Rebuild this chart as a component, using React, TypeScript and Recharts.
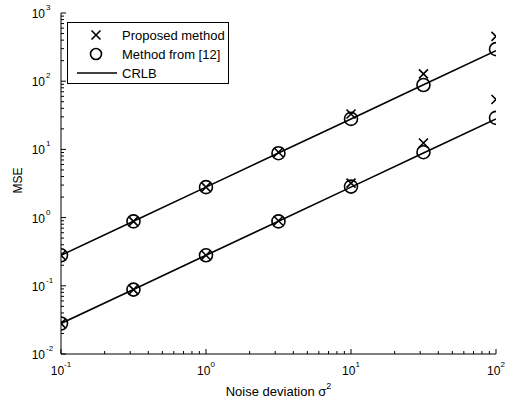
import React from "react";
import { ComposedChart, Line, XAxis, YAxis, Legend } from "recharts";

// noise variance (x) and MSE values
const noiseVar = [0.1, 0.316, 1, 3.16, 10, 31.6, 100];
const crlbHigh = [0.28, 0.885, 2.8, 8.85, 28, 88.5, 280];
const crlbLow = [0.028, 0.0885, 0.28, 0.885, 2.8, 8.85, 28];
const proposedHigh = [0.28, 0.88, 2.8, 9.1, 33, 128, 455];
const proposedLow = [0.028, 0.088, 0.28, 0.9, 3.2, 12.4, 54];
const method12High = [0.28, 0.88, 2.8, 8.8, 28, 88, 295];
const method12Low = [0.028, 0.088, 0.28, 0.88, 2.85, 9.1, 29];

const xMajor = [0.1, 1, 10, 100];
const yMajor = [0.01, 0.1, 1, 10, 100, 1000];

const legendItems = ["Proposed method", "Method from [12]", "CRLB"];

const FONT = "'Liberation Sans', Arial, Helvetica, sans-serif";

const data = noiseVar.map((x, i) => ({
  x,
  crlbHigh: crlbHigh[i],
  crlbLow: crlbLow[i],
  proposedHigh: proposedHigh[i],
  proposedLow: proposedLow[i],
  method12High: method12High[i],
  method12Low: method12Low[i],
}));

// log ticks: majors plus 2..9 minors inside each decade
function withMinors(majors: number[]) {
  const out: number[] = [];
  for (let i = 0; i < majors.length - 1; i++) {
    for (let k = 1; k <= 9; k++) out.push(+(majors[i] * k).toPrecision(6));
  }
  out.push(majors[majors.length - 1]);
  return out;
}
const xTicks = withMinors(xMajor);
const yTicks = withMinors(yMajor);

const isMajor = (v: number) =>
  Math.abs(Math.log10(v) - Math.round(Math.log10(v))) < 1e-6;
const expOf = (v: number) => String(Math.round(Math.log10(v)));

const BottomTick = (props: any) => {
  const { x, y, payload } = props;
  const major = isMajor(payload.value);
  return (
    <g>
      <line x1={x} y1={y} x2={x} y2={y - (major ? 5 : 3)} stroke="#000" />
      {major && (
        <text x={x} y={y + 21} textAnchor="middle" fontSize={12} fontFamily={FONT} fill="#000">
          10
          <tspan dy={-8} fontSize={8}>
            {expOf(payload.value)}
          </tspan>
        </text>
      )}
    </g>
  );
};

const TopTick = (props: any) => {
  const { x, y, payload } = props;
  const major = isMajor(payload.value);
  return <line x1={x} y1={y} x2={x} y2={y + (major ? 5 : 3)} stroke="#000" />;
};

const LeftTick = (props: any) => {
  const { x, y, payload } = props;
  const major = isMajor(payload.value);
  return (
    <g>
      <line x1={x} y1={y} x2={x + (major ? 5 : 3)} y2={y} stroke="#000" />
      {major && (
        <g fontFamily={FONT} fill="#000">
          <text x={x - 16} y={y + 5} textAnchor="end" fontSize={12}>
            10
          </text>
          <text x={x - 15} y={y - 3} textAnchor="start" fontSize={8}>
            {expOf(payload.value)}
          </text>
        </g>
      )}
    </g>
  );
};

const RightTick = (props: any) => {
  const { x, y, payload } = props;
  const major = isMajor(payload.value);
  return <line x1={x} y1={y} x2={x - (major ? 5 : 3)} y2={y} stroke="#000" />;
};

const CrossDot = (props: any) => {
  const { cx, cy } = props;
  if (cx == null || cy == null) return null;
  const s = 4.5;
  return (
    <path
      d={`M${cx - s},${cy - s}L${cx + s},${cy + s}M${cx - s},${cy + s}L${cx + s},${cy - s}`}
      stroke="#000"
      strokeWidth={1.6}
      fill="none"
    />
  );
};

const CircleDot = (props: any) => {
  const { cx, cy } = props;
  if (cx == null || cy == null) return null;
  return <circle cx={cx} cy={cy} r={6.5} stroke="#000" strokeWidth={1.6} fill="none" />;
};

const XTitle = (props: any) => {
  const vb = props.viewBox;
  return (
    <text x={vb.x + vb.width / 2} y={vb.y + 42} textAnchor="middle" fontSize={13} fontFamily={FONT} fill="#000">
      Noise deviation σ
      <tspan dy={-7} fontSize={9}>
        2
      </tspan>
    </text>
  );
};

const YTitle = (props: any) => {
  const vb = props.viewBox;
  const cx = vb.x + 22;
  const cy = vb.y + vb.height / 2 - 3;
  return (
    <text
      x={cx}
      y={cy}
      transform={`rotate(-90 ${cx} ${cy})`}
      textAnchor="middle"
      fontSize={12}
      fontFamily={FONT}
      fill="#000"
    >
      MSE
    </text>
  );
};

const LegendBox = () => (
  <svg width={170} height={70} style={{ display: "block" }}>
    <rect x={0.5} y={0.5} width={161} height={61} fill="#fff" stroke="#000" />
    <CrossDot cx={29} cy={13} />
    <circle cx={29} cy={32} r={5.5} stroke="#000" strokeWidth={1.6} fill="none" />
    <line x1={10} y1={51} x2={50} y2={51} stroke="#000" strokeWidth={1.6} />
    {legendItems.map((t, i) => (
      <text key={t} x={55} y={17.5 + i * 19} fontSize={13} fontFamily={FONT} fill="#000">
        {t}
      </text>
    ))}
  </svg>
);

export default function App() {
  return (
    <div style={{ position: "absolute", left: 0, top: 0, background: "#fff" }}>
      <ComposedChart
        width={509}
        height={402}
        data={data}
        margin={{ top: 13, right: 13, bottom: 0, left: 0 }}
      >
        <XAxis
          dataKey="x"
          type="number"
          scale="log"
          domain={[0.1, 100]}
          allowDataOverflow
          ticks={xTicks}
          interval={0}
          tick={<BottomTick />}
          tickLine={false}
          tickSize={0}
          tickMargin={0}
          height={48}
          axisLine={{ stroke: "#000" }}
          label={<XTitle />}
        />
        <XAxis
          xAxisId="top"
          orientation="top"
          dataKey="x"
          type="number"
          scale="log"
          domain={[0.1, 100]}
          allowDataOverflow
          ticks={xTicks}
          interval={0}
          tick={<TopTick />}
          tickLine={false}
          tickSize={0}
          tickMargin={0}
          height={0}
          axisLine={{ stroke: "#000" }}
        />
        <YAxis
          type="number"
          scale="log"
          domain={[0.01, 1000]}
          allowDataOverflow
          ticks={yTicks}
          interval={0}
          tick={<LeftTick />}
          tickLine={false}
          tickSize={0}
          tickMargin={0}
          width={61}
          axisLine={{ stroke: "#000" }}
          label={<YTitle />}
        />
        <YAxis
          yAxisId="right"
          orientation="right"
          type="number"
          scale="log"
          domain={[0.01, 1000]}
          allowDataOverflow
          ticks={yTicks}
          interval={0}
          tick={<RightTick />}
          tickLine={false}
          tickSize={0}
          tickMargin={0}
          width={0}
          axisLine={{ stroke: "#000" }}
        />
        <Legend
          layout="horizontal"
          verticalAlign="middle"
          align="center"
          wrapperStyle={{ position: "absolute", left: 67, top: 22, width: 170, height: 70 }}
          content={() => <LegendBox />}
        />
        <Line dataKey="crlbHigh" stroke="#000" strokeWidth={1.6} dot={false} isAnimationActive={false} />
        <Line dataKey="crlbLow" stroke="#000" strokeWidth={1.6} dot={false} isAnimationActive={false} />
        <Line dataKey="proposedHigh" stroke="none" dot={<CrossDot />} isAnimationActive={false} />
        <Line dataKey="proposedLow" stroke="none" dot={<CrossDot />} isAnimationActive={false} />
        <Line dataKey="method12High" stroke="none" dot={<CircleDot />} isAnimationActive={false} />
        <Line dataKey="method12Low" stroke="none" dot={<CircleDot />} isAnimationActive={false} />
      </ComposedChart>
    </div>
  );
}
